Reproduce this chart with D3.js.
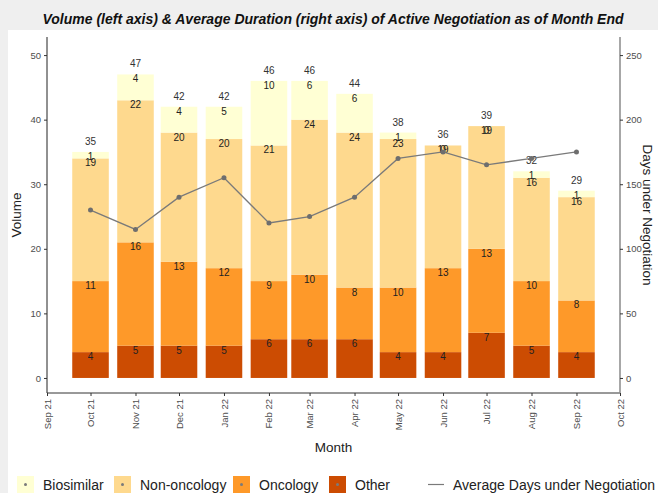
<!DOCTYPE html>
<html>
<head>
<meta charset="utf-8">
<script src="https://cdn.jsdelivr.net/npm/d3@7"></script>
<style>
  html, body { margin: 0; padding: 0; background: #ffffff; }
  svg { display: block; font-family: "Liberation Sans", Arial, sans-serif; }
</style>
</head>
<body>
<svg id="chart" width="658" height="493"></svg>
<script>
// data
const months = ["2021-10-01","2021-11-01","2021-12-01","2022-01-01","2022-02-01","2022-03-01",
                "2022-04-01","2022-05-01","2022-06-01","2022-07-01","2022-08-01","2022-09-01"];
const other       = [4, 5, 5, 5, 6, 6, 6, 4, 4, 7, 5, 4];
const oncology    = [11, 16, 13, 12, 9, 10, 8, 10, 13, 13, 10, 8];
const nonOncology = [19, 22, 20, 20, 21, 24, 24, 23, 19, 19, 16, 16];
const biosimilar  = [1, 4, 4, 5, 10, 6, 6, 1, 0, 0, 1, 1];
const avgDays     = [130, 115, 140, 155, 120, 125, 140, 170, 175, 165, 170, 175];

const categories = ["Other", "Oncology", "Non-oncology", "Biosimilar"];
const colors = {"Biosimilar": "#FFFFD4", "Non-oncology": "#FED98E", "Oncology": "#FE9929", "Other": "#CC4C02"};
const leftTicks = [0, 10, 20, 30, 40, 50];
const rightTicks = [0, 50, 100, 150, 200, 250];

const parse = d3.timeParse("%Y-%m-%d");
const rows = months.map((m, i) => ({
    date: parse(m),
    "Other": other[i], "Oncology": oncology[i],
    "Non-oncology": nonOncology[i], "Biosimilar": biosimilar[i],
    days: avgDays[i]
}));
rows.forEach(r => r.total = categories.reduce((s, c) => s + r[c], 0));

const svg = d3.select("#chart");

// scanned-page look: light grey band on top and left
svg.append("rect").attr("width", 658).attr("height", 493).attr("fill", "#efefef");
svg.append("rect").attr("x", 8).attr("y", 30).attr("width", 650).attr("height", 463).attr("fill", "#ffffff");

const plotLeft = 47, plotRight = 620, plotTop = 37, plotBottom = 393;

const x = d3.scaleTime()
    .domain([parse("2021-09-01"), parse("2022-10-01")])
    .range([plotLeft, plotRight]);

const y = d3.scaleLinear()
    .domain([-2.33, 52.8])
    .range([plotBottom, plotTop]);

const y2 = d3.scaleLinear()
    .domain([-2.33 * 5, 52.8 * 5])
    .range([plotBottom, plotTop]);

const halfWidth = 12.6 * 24 * 3600 * 1000; // 0.9 * 28 days / 2

const series = d3.stack().keys(categories)(rows);

// bars
svg.append("g").selectAll("g")
    .data(series)
    .enter()
    .append("g")
    .attr("fill", d => colors[d.key])
    .selectAll("rect")
    .data(d => d)
    .enter()
    .append("rect")
    .attr("x", d => x(new Date(d.data.date.getTime() - halfWidth)))
    .attr("width", d => x(new Date(d.data.date.getTime() + halfWidth)) - x(new Date(d.data.date.getTime() - halfWidth)))
    .attr("y", d => y(d[1]))
    .attr("height", d => y(d[0]) - y(d[1]));

// segment labels (at top of each segment, zeros included like the original)
series.forEach(s => {
    svg.append("g").selectAll("text")
        .data(s)
        .enter()
        .append("text")
        .attr("x", d => x(d.data.date))
        .attr("y", d => y(d[1]) + 8)
        .attr("text-anchor", "middle")
        .style("font-size", "10px")
        .style("fill", "#222")
        .text(d => d[1] - d[0]);
});

// total labels
svg.append("g").selectAll("text")
    .data(rows)
    .enter()
    .append("text")
    .attr("x", d => x(d.date))
    .attr("y", d => y(d.total) - 7)
    .attr("text-anchor", "middle")
    .style("font-size", "10px")
    .style("fill", "#333")
    .text(d => d.total);

// average days line
const line = d3.line()
    .x(d => x(d.date))
    .y(d => y2(d.days));

svg.append("path")
    .datum(rows)
    .attr("fill", "none")
    .attr("stroke", "#7a7a7a")
    .attr("stroke-width", 1.3)
    .attr("d", line);

svg.append("g").selectAll("circle")
    .data(rows)
    .enter()
    .append("circle")
    .attr("cx", d => x(d.date))
    .attr("cy", d => y2(d.days))
    .attr("r", 2.5)
    .attr("fill", "#6e6e6e");

// axes
const xAxis = svg.append("g")
    .attr("transform", `translate(0,${plotBottom})`)
    .call(d3.axisBottom(x).ticks(d3.timeMonth.every(1)).tickSize(3).tickFormat(d3.timeFormat("%b %y")));
xAxis.selectAll("text")
    .attr("transform", "rotate(-90)")
    .attr("x", -6)
    .attr("y", 0)
    .attr("dy", "0.32em")
    .style("text-anchor", "end");

const yAxis = svg.append("g")
    .attr("transform", `translate(${plotLeft},0)`)
    .call(d3.axisLeft(y).tickValues(leftTicks).tickSize(3));

const y2Axis = svg.append("g")
    .attr("transform", `translate(${plotRight},0)`)
    .call(d3.axisRight(y2).tickValues(rightTicks).tickSize(3));

[xAxis, yAxis, y2Axis].forEach(a => {
    a.selectAll("text").style("font-size", "9.5px").style("fill", "#4d4d4d").style("font-family", "Liberation Sans, Arial, sans-serif");
    a.selectAll("line").attr("stroke", "#333");
});
xAxis.select(".domain").attr("stroke", "#333").attr("d", `M${plotLeft},0H${plotRight}`);
yAxis.select(".domain").attr("stroke", "#222").attr("d", `M0,${plotTop}V${plotBottom}`);
y2Axis.select(".domain").attr("stroke", "#8a8a8a").attr("stroke-width", 1.5).attr("d", `M0,${plotTop}V${plotBottom}`);

// axis titles
svg.append("text")
    .attr("x", (plotLeft + plotRight) / 2)
    .attr("y", 452)
    .attr("text-anchor", "middle")
    .style("font-size", "13.5px")
    .style("fill", "#222")
    .text("Month");

svg.append("text")
    .attr("transform", `translate(21,${(plotTop + plotBottom) / 2}) rotate(-90)`)
    .attr("text-anchor", "middle")
    .style("font-size", "13.5px")
    .style("fill", "#222")
    .text("Volume");

svg.append("text")
    .attr("transform", `translate(643,${(plotTop + plotBottom) / 2}) rotate(90)`)
    .attr("text-anchor", "middle")
    .style("font-size", "13.5px")
    .style("fill", "#222")
    .text("Days under Negotiation");

// title
svg.append("text")
    .attr("x", 333)
    .attr("y", 24)
    .attr("text-anchor", "middle")
    .style("font-size", "14px")
    .style("font-weight", "bold")
    .style("font-style", "italic")
    .style("fill", "#111")
    .text("Volume (left axis) & Average Duration (right axis) of Active Negotiation as of Month End");

// legend
const legendItems = [
    {key: "Biosimilar", x: 17},
    {key: "Non-oncology", x: 114},
    {key: "Oncology", x: 233},
    {key: "Other", x: 329}
];
const legend = svg.append("g").attr("transform", "translate(0,476)");
legendItems.forEach(it => {
    legend.append("rect")
        .attr("x", it.x).attr("y", 0)
        .attr("width", 17).attr("height", 17)
        .attr("fill", colors[it.key]);
    legend.append("circle")
        .attr("cx", it.x + 8.5).attr("cy", 8.5).attr("r", 1.5)
        .attr("fill", "#7a7a7a");
    legend.append("text")
        .attr("x", it.x + 26).attr("y", 13.5)
        .style("font-size", "14px")
        .style("fill", "#222")
        .text(it.key);
});
legend.append("line")
    .attr("x1", 428).attr("x2", 444)
    .attr("y1", 8.5).attr("y2", 8.5)
    .attr("stroke", "#7a7a7a").attr("stroke-width", 1.2);
legend.append("text")
    .attr("x", 453).attr("y", 13.5)
    .style("font-size", "14px")
    .style("fill", "#222")
    .text("Average Days under Negotiation");
</script>
</body>
</html>
